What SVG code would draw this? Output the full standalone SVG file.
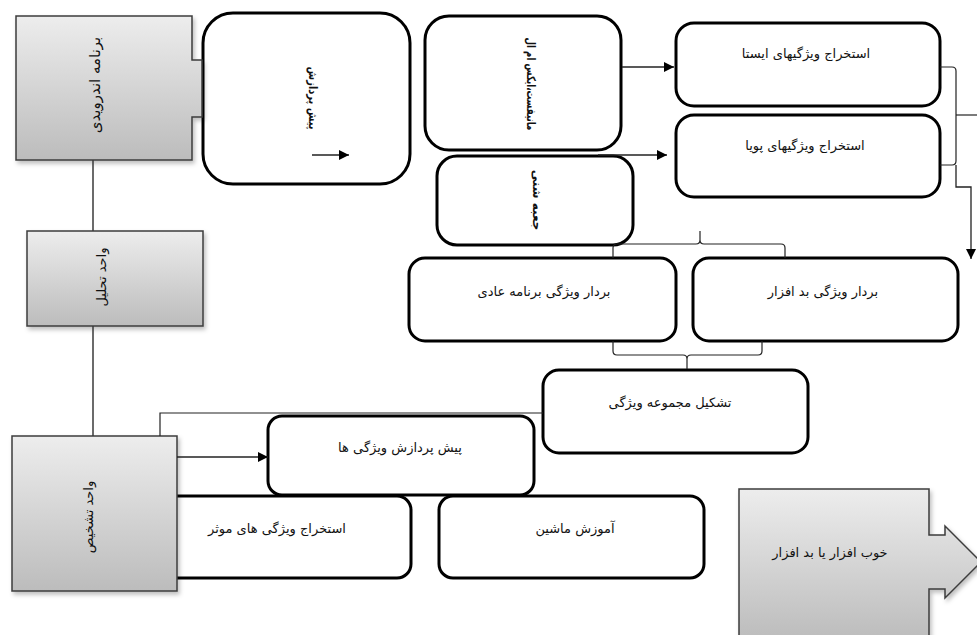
<svg xmlns="http://www.w3.org/2000/svg" width="977" height="635" viewBox="0 0 977 635">
<defs>
<linearGradient id="gg" x1="0" y1="0" x2="0" y2="1">
<stop offset="0" stop-color="#ededed"/>
<stop offset="1" stop-color="#bcbcbc"/>
</linearGradient>
<filter id="sh" x="-10%" y="-10%" width="130%" height="130%">
<feDropShadow dx="2" dy="3" stdDeviation="2" flood-color="#000" flood-opacity="0.25"/>
</filter>
<marker id="ah" viewBox="0 0 10 10" refX="10" refY="5" markerWidth="10" markerHeight="10" markerUnits="userSpaceOnUse" orient="auto">
<path d="M0,0 L10,5 L0,10 Z" fill="#000"/>
</marker>
</defs>
<style>
.gray{fill:url(#gg);stroke:#3c3c3c;stroke-width:1.5;filter:url(#sh)}
.box{fill:#fff;stroke:#000;stroke-width:3}
.ln{fill:none;stroke:#3a3a3a;stroke-width:1.5}
.thin{fill:none;stroke:#222;stroke-width:1.2}
.arr{fill:none;stroke:#222;stroke-width:1.3;marker-end:url(#ah)}
text{font-family:"DejaVu Sans","Noto Sans",sans-serif;fill:#111;text-anchor:middle;dominant-baseline:central}
.h{font-size:13px}
.v{font-size:13px}
.vb{font-size:12px;font-weight:bold}
</style>
<rect width="977" height="635" fill="#fff"/>

<g id="n-preprocess">
<rect class="box" x="203" y="13" width="207" height="171" rx="30"/>
<text class="vb" transform="translate(313,98) rotate(90)" textLength="63" lengthAdjust="spacingAndGlyphs">پیش پردازش</text>
</g>

<g id="n-android">
<path class="gray" d="M16,16 H192 V60 H202 V117 H192 V160 H16 Z"/>
<text class="v" transform="translate(95,85) rotate(-90)" style="font-size:15px">برنامه اندرویدی</text>
</g>

<g id="n-analysis">
<rect class="gray" x="27" y="231" width="176" height="95"/>
<text class="v" transform="translate(101,277) rotate(-90)">واحد تحلیل</text>
</g>

<g id="n-manifest">
<rect class="box" x="425" y="16" width="196" height="134" rx="24"/>
<text class="vb" transform="translate(531,84) rotate(90)" textLength="93" lengthAdjust="spacingAndGlyphs">مانیفست،ایکس ام ال</text>
</g>

<g id="n-sandbox">
<rect class="box" x="437" y="156" width="196" height="89" rx="20"/>
<text class="vb" transform="translate(537,200) rotate(90)">جعبه شنی</text>
</g>

<g id="n-static">
<rect class="box" x="676" y="23" width="264" height="83" rx="18"/>
<text class="h" x="806" y="53">استخراج ویژگیهای ایستا</text>
</g>

<g id="n-dynamic">
<rect class="box" x="676" y="115" width="264" height="82" rx="18"/>
<text class="h" x="805" y="145">استخراج ویژگیهای پویا</text>
</g>

<g id="n-benign-vec">
<rect class="box" x="409" y="258" width="267" height="83" rx="16"/>
<text class="h" x="544" y="291">بردار ویژگی برنامه عادی</text>
</g>

<g id="n-malware-vec">
<rect class="box" x="693" y="258" width="265" height="83" rx="16"/>
<text class="h" x="823" y="291">بردار ویژگی بد افزار</text>
</g>

<g id="n-featureset">
<rect class="box" x="543" y="370" width="265" height="83" rx="16"/>
<text class="h" x="670" y="402">تشکیل مجموعه ویژگی</text>
</g>

<g id="n-feat-preprocess">
<rect class="box" x="268" y="416" width="266" height="79" rx="14"/>
<text class="h" x="400" y="447">پیش پردازش ویژگی ها</text>
</g>

<g id="n-effective">
<rect class="box" x="150" y="496" width="261" height="82" rx="14"/>
<text class="h" x="277" y="528">استخراج ویژگی های موثر</text>
</g>

<g id="n-detection">
<rect class="gray" x="12" y="436" width="165" height="155"/>
<text class="v" transform="translate(88,517) rotate(-90)">واحد تشخیص</text>
</g>

<g id="n-ml">
<rect class="box" x="439" y="496" width="265" height="82" rx="14"/>
<text class="h" x="575" y="528">آموزش ماشین</text>
</g>

<g id="n-result">
<path class="gray" d="M739,489 H929 V535 H945 V526 L981,562 L945,598 V589 H929 V640 H739 Z"/>
<text class="h" x="830" y="552">خوب افزار یا بد افزار</text>
</g>

<g id="connectors">
<path class="ln" d="M93,160 V231"/>
<path class="ln" d="M93,326 V436"/>
<path class="thin" d="M160,436 V413 H543"/>
<path class="arr" d="M312,155 H349"/>
<path class="arr" d="M622,67 H674"/>
<path class="arr" d="M598,155 H667"/>
<path class="arr" d="M177,457 H268"/>
<path class="thin" d="M940,67 H952 Q956,67 956,71 V161 Q956,165 952,165 H940"/>
<path class="thin" d="M956,115 H977"/>
<path class="arr" d="M956,165 V187 H971 V259"/>
<path class="thin" d="M613,258 V248 Q613,244 617,244 H696 Q700,244 700,240 V231 M700,240 Q700,244 704,244 H781 Q785,244 785,248 V258"/>
<path class="thin" d="M613,341 V351 Q613,355 617,355 H683 Q687,355 687,359 V369 M687,359 Q687,355 691,355 H758 Q762,355 762,351 V341"/>
</g>
</svg>
